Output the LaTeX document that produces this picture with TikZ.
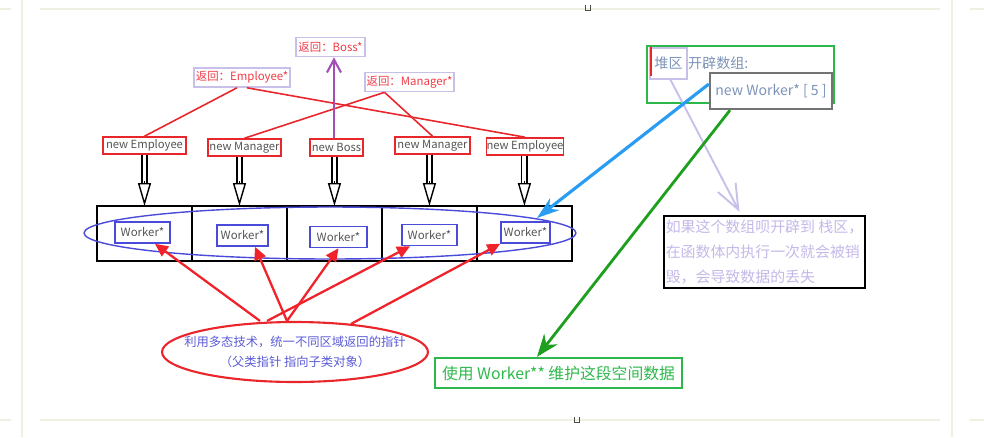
\documentclass[tikz,border=0pt]{standalone}
\usepackage{fontspec}
\setmainfont{Noto Sans CJK SC}
\usetikzlibrary{arrows.meta,positioning,shapes.geometric}
\newcommand{\fsz}[2]{\fontsize{#1pt}{#2pt}\selectfont}

\begin{document}
\begin{tikzpicture}[
    x=0.02cm, y=-0.02cm,
    every node/.style={font=\fsz{7}{9}},
    retlbl/.style={draw=lilac, line width=0.9pt, text=retred, font=\fsz{6.5}{8}, inner sep=0pt, minimum height=0.38cm},
    newbox/.style={draw=boxred, line width=0.9pt, text=txtgrey, font=\fsz{6.4}{8}, inner sep=0pt, minimum height=0.34cm},
    cell/.style={draw=black, line width=0.9pt, outer sep=0pt, minimum width=1.9cm, minimum height=1.1cm, inner sep=0pt},
    wbox/.style={draw=wblue, line width=0.9pt, text=txtgrey, font=\fsz{6.5}{8}, inner sep=0pt, minimum height=0.42cm},
    shaft/.style={draw=black, double=white, double distance=2.2pt, line width=0.7pt},
    hollowtip/.style={-{Triangle[open, length=0.46cm, width=0.26cm]}, line width=0.8pt, black},
    link/.style={boxred, line width=0.9pt},
    ptr/.style={-{Triangle[length=2.6mm, width=2.4mm]}, line width=1.3pt, ptrred},
  ]
    \definecolor{lilac}{HTML}{C9C0EA}
    \definecolor{retred}{HTML}{F03C46}
    \definecolor{boxred}{HTML}{E8262B}
    \definecolor{ptrred}{HTML}{F0232B}
    \definecolor{txtgrey}{HTML}{555555}
    \definecolor{wblue}{HTML}{4B4BD9}
    \definecolor{polytxt}{HTML}{5A5AD8}
    \definecolor{steel}{HTML}{7B93B8}
    \definecolor{notetxt}{HTML}{C5B8E8}
    \definecolor{okgreen}{HTML}{2EB84B}
    \definecolor{arrgreen}{HTML}{1F9F1F}
    \definecolor{arrblue}{HTML}{2A9DF2}
    \definecolor{bossarr}{HTML}{A24EB5}
    \definecolor{frame}{HTML}{ECF1E2}

    \useasboundingbox (0,0) rectangle (984,437);

    % page frame
    \draw[frame, line width=1.1pt] (40,9) -- (940,9) (40,420) -- (940,420);
    \draw[frame, line width=1.1pt] (0,9) -- (11,9) (0,420) -- (11,420) (970,9) -- (984,9) (970,420) -- (984,420);
    \draw[frame, line width=1.1pt] (22,0) -- (22,437) (952,0) -- (952,437);
    \draw[black!70, line width=0.5pt] (585,5) -- (585,10) -- (590,10) -- (590,5);
    \draw[black!70, line width=0.5pt] (574,417) -- (574,422) -- (579,422) -- (579,417);

    % returned pointer labels
    \node[retlbl, minimum width=1.38cm] (retboss) at (330.5,47) {返回：Boss*};
    \node[retlbl, minimum width=1.92cm] (retemp) at (242,77.5) {返回：Employee*};
    \node[retlbl, minimum width=1.78cm] (retmgr) at (409.5,82) {返回：Manager*};

    % new objects
    \node[newbox, minimum width=1.66cm] (ne1) at (144.5,145.5) {new Employee};
    \node[newbox, minimum width=1.46cm] (nm1) at (244.5,147.5) {new Manager};
    \node[newbox, minimum width=1.06cm] (nb) at (336.5,147.5) {new Boss};
    \node[newbox, minimum width=1.50cm] (nm2) at (432.5,145.5) {new Manager};
    \node[newbox, minimum width=1.52cm] (ne2) at (525,146.5) {new Employee};

    \draw[link] ([xshift=-0.1cm]retemp.south) -- (ne1.north);
    \draw[link] ([xshift=0.1cm]retemp.south) -- (ne2.north);
    \draw[link] ([xshift=-0.5cm]retmgr.south) -- (nm1.north);
    \draw[link] ([xshift=-0.5cm]retmgr.south) -- (nm2.north);
    \draw[bossarr, line width=1.2pt, -{Straight Barb[length=2.6mm, width=2.8mm]}] ([xshift=-0.05cm]nb.north) -- ([xshift=-0.05cm]nb.north |- retboss.south);

    % array cells
    \node[cell] (c1) at (144.5,233.5) {};
    \node[cell, right=0pt of c1] (c2) {};
    \node[cell, right=0pt of c2] (c3) {};
    \node[cell, right=0pt of c3] (c4) {};
    \node[cell, right=0pt of c4] (c5) {};

    \node[wbox, minimum width=1.10cm] (w1) at (142.5,232.5) {Worker*};
    \node[wbox, minimum width=1.02cm] (w2) at (242.5,235.5) {Worker*};
    \node[wbox, minimum width=1.14cm] (w3) at (338.5,237) {Worker*};
    \node[wbox, minimum width=1.10cm] (w4) at (429.5,235) {Worker*};
    \node[wbox, minimum width=0.98cm] (w5) at (525.5,232.5) {Worker*};

    \node[ellipse, draw=wblue, line width=0.8pt, minimum width=9.84cm, minimum height=1.04cm] (ring) at (330,233) {};

    \foreach \n/\c in {ne1/c1, nm1/c2, nb/c3, nm2/c4, ne2/c5} {
      \draw[shaft] (\c.north |- \n.south) -- ([yshift=0.46cm]\c.north);
      \draw[hollowtip] ([yshift=0.5cm]\c.north) -- (\c.north);
    }

    % polymorphism note
    \node[ellipse, draw=boxred, line width=1.2pt, minimum width=5.32cm, minimum height=1.2cm, inner sep=0pt] (poly) at (295,352) {};
    \node[text=polytxt, align=center, font=\fsz{7}{11}] (polylbl) at (poly.center)
      {利用多态技术，统一不同区域返回的指针\\（父类指针 指向子类对象）};

    \draw[ptr] ([xshift=-0.7cm]poly.north) -- ([xshift=0.25cm]w1.south);
    \draw[ptr] ([xshift=-0.16cm]poly.north) -- ([xshift=0.25cm]w2.south);
    \draw[ptr] ([xshift=-0.16cm]poly.north) -- (w3.south);
    \draw[ptr] ([xshift=-0.56cm]poly.north) -- ([xshift=-0.39cm]w4.south);
    \draw[ptr] ([xshift=1.12cm, yshift=-0.06cm]poly.north) -- (w5.south west);

    % heap allocation
    \node[draw=okgreen, line width=1.2pt, minimum width=3.74cm, minimum height=1.14cm] (heap) at (740.5,74.5) {};
    \node[draw=lilac, line width=0.9pt, text=steel, font=\fsz{8}{10}, minimum width=0.74cm, minimum height=0.62cm, inner sep=0pt] (heaptag) at (668.5,63.5) {堆区};
    \draw[boxred, line width=1.3pt] ([xshift=0.03cm]heaptag.north west) -- ([xshift=0.03cm, yshift=0.08cm]heaptag.south west);
    \node[right=0pt of heaptag, text=steel, font=\fsz{8}{10}, inner sep=0pt] (heaptxt) {开辟数组:};
    \node[draw=black!55, fill=white, line width=1.3pt, text=steel, font=\fsz{8}{10}, minimum width=2.44cm, minimum height=0.72cm, inner sep=0pt] (newarr) at (771,91) {new Worker* [ 5 ]};

    \node[draw=black, line width=1.3pt, text=notetxt, align=left, font=\fsz{8.5}{14}, minimum width=3.98cm, minimum height=1.44cm, inner sep=1pt] (note) at (764.5,252)
      {如果这个数组呗开辟到 栈区，\\在函数体内执行一次就会被销\\毁，会导致数据的丢失};

    \node[draw=okgreen, line width=1.3pt, text=okgreen, font=\fsz{9}{11}, minimum width=4.94cm, minimum height=0.6cm, inner sep=0pt] (usebox) at (558.5,373) {使用 Worker** 维护这段空间数据};

    \draw[lilac, line width=1.1pt, -{Straight Barb[length=5mm, width=4mm]}] ([xshift=0.04cm]heaptag.south) -- ([xshift=-0.5cm, yshift=0.06cm]note.north);
    \draw[arrblue, line width=1.8pt, -{Stealth[length=4.5mm, width=3mm]}] ([yshift=0.14cm]newarr.west) -- ([xshift=1.2cm, yshift=-0.24cm]c5.north west);
    \draw[arrgreen, line width=1.6pt, -{Stealth[length=4.5mm, width=3.4mm]}] ([xshift=-0.82cm]newarr.south) -- ([xshift=-0.43cm]usebox.north);
  \end{tikzpicture}
\end{document}
